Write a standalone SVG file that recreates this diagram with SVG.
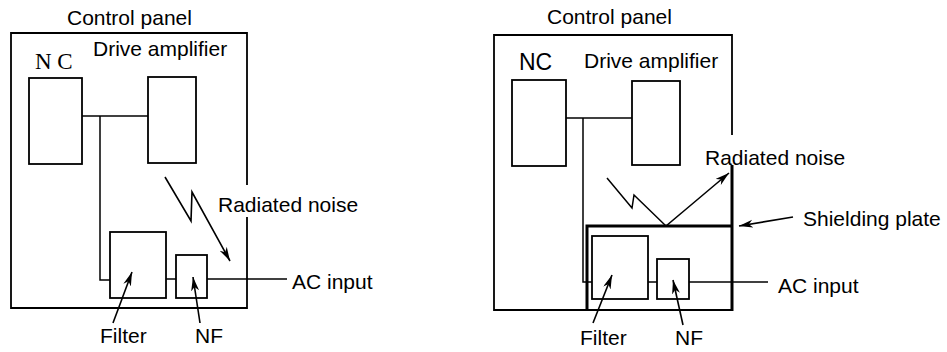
<svg xmlns="http://www.w3.org/2000/svg" width="947" height="352" viewBox="0 0 947 352">
<style>
.t{font-family:"Liberation Sans",Arial,sans-serif;font-size:21px;fill:#000}
.ts{font-family:"Liberation Serif","Times New Roman",serif;font-size:23px;fill:#000}
.b{fill:none;stroke:#000;stroke-width:1.8}
.w{fill:none;stroke:#000;stroke-width:1.5}
.sh{fill:none;stroke:#000;stroke-width:3}
.a{fill:none;stroke:#000;stroke-width:1.6;marker-end:url(#ah)}
</style>
<defs>
<marker id="ah" markerUnits="userSpaceOnUse" markerWidth="16" markerHeight="10" refX="14" refY="4" orient="auto">
<path d="M0,0 L14,4 L0,8 L4,4 z" fill="#000"/>
</marker>
</defs>
<rect width="947" height="352" fill="#fff"/>

<!-- LEFT DIAGRAM -->
<g id="panel-left">
<path class="b" d="M247,185 V33 H11 V308 H247 V217"/>
<text class="t" x="67" y="25">Control panel</text>
</g>
<g id="nc-left">
<rect class="b" x="29" y="78" width="53" height="86"/>
<text class="ts" x="35" y="69">N C</text>
</g>
<g id="amp-left">
<rect class="b" x="148" y="77" width="48" height="86"/>
<text class="t" x="93" y="56">Drive amplifier</text>
</g>
<g id="filter-left">
<rect class="b" x="110" y="232" width="56" height="66"/>
<text class="t" x="100" y="343">Filter</text>
</g>
<g id="nf-left">
<rect class="b" x="176" y="255" width="31" height="43"/>
<text class="t" x="195" y="343">NF</text>
</g>
<g id="noise-left">
<text class="t" x="218" y="212">Radiated noise</text>
</g>
<g id="ac-left">
<text class="t" x="292" y="289">AC input</text>
</g>

<!-- RIGHT DIAGRAM -->
<g id="panel-right">
<path class="b" d="M732,135 V35 H494 V310 H732"/>
<line class="sh" x1="732" y1="165" x2="732" y2="311"/>
<text class="t" x="547" y="24">Control panel</text>
</g>
<g id="nc-right">
<rect class="b" x="512" y="80" width="54" height="86"/>
<text class="t" x="519" y="70" style="font-size:23px">NC</text>
</g>
<g id="amp-right">
<rect class="b" x="632" y="81" width="48" height="84"/>
<text class="t" x="584" y="68">Drive amplifier</text>
</g>
<g id="shield-right">
<path class="sh" d="M587,311 V226 H732"/>
<text class="t" x="803" y="226">Shielding plate</text>
</g>
<g id="filter-right">
<rect class="b" x="592" y="236" width="56" height="63"/>
<text class="t" x="580" y="345">Filter</text>
</g>
<g id="nf-right">
<rect class="b" x="657" y="259" width="32" height="40"/>
<text class="t" x="675" y="345">NF</text>
</g>
<g id="noise-right">
<text class="t" x="705" y="165">Radiated noise</text>
</g>
<g id="ac-right">
<text class="t" x="778" y="293">AC input</text>
</g>

<g id="connectors">
<!-- left -->
<path class="w" d="M82,116 H148"/>
<path class="w" d="M100,116 V280 H110"/>
<path class="w" d="M166,279 H176"/>
<path class="w" d="M207,279 H287"/>
<path class="a" d="M165,177 L191,221 L192,192 L230,261"/>
<path class="a" d="M113,323 L132,272"/>
<path class="a" d="M200,323 L193,277"/>
<!-- right -->
<path class="w" d="M566,118 H632"/>
<path class="w" d="M583,118 V282 H592"/>
<path class="w" d="M648,282 H657"/>
<path class="w" d="M689,282 H768"/>
<path class="w" d="M607,178 L632,208 L634,195 L666,226"/>
<path class="a" d="M666,226 L729,173"/>
<path class="a" d="M793,217 L739,226"/>
<path class="a" d="M593,323 L612,275"/>
<path class="a" d="M683,325 L673,280"/>
</g>
</svg>
